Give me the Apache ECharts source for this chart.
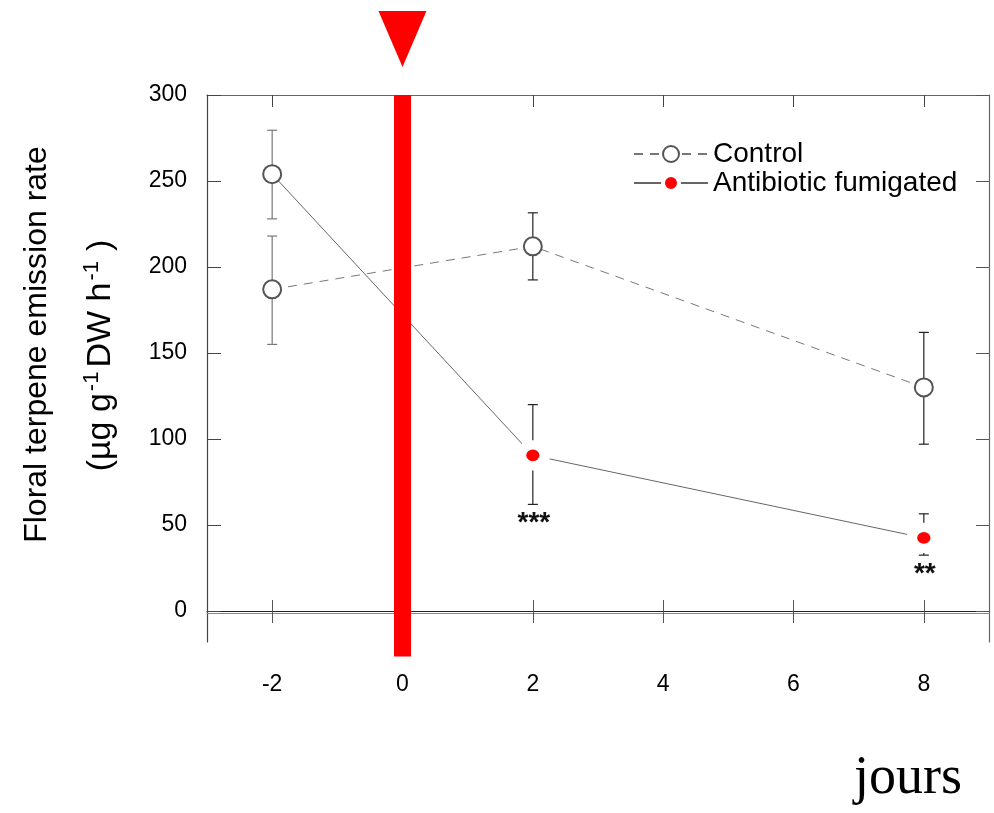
<!DOCTYPE html>
<html>
<head>
<meta charset="utf-8">
<script src="https://cdn.jsdelivr.net/npm/echarts@6/dist/echarts.min.js"></script>
<style>
  html, body { margin: 0; padding: 0; background: #fff; }
  #chart { width: 994px; height: 813px; }
</style>
</head>
<body>
<div id="chart"></div>
<script>
// days relative to treatment
const days = [-2, 2, 8];
const xTicks = [-2, 0, 2, 4, 6, 8];
const yTicks = [0, 50, 100, 150, 200, 250, 300];

const controlMean = [187, 212, 130];
const controlLow = [155, 192.5, 97];
const controlHigh = [218, 231.5, 162];

const fumigatedMean = [254, 90.5, 42.5];
const fumigatedLow = [228, 62, 32.5];
const fumigatedHigh = [279.5, 120, 56.5];
const significance = ['', '***', '**'];

// antibiotic treatment at day 0
const treatmentDay = 0;
const treatmentSpan = [300, -26.5];

const font = '"Liberation Sans", Arial, sans-serif';

const chart = echarts.init(document.getElementById('chart'));

const errorSeries = (low, high, labels) => ({
    type: 'custom',
    z: 1,
    silent: true,
    clip: false,
    data: days.map((d, i) => [d, low[i], high[i]]),
    renderItem: (params, api) => {
        const x = api.value(0);
        const lo = api.coord([x, api.value(1)]);
        const hi = api.coord([x, api.value(2)]);
        const col = x < 0 ? '#777' : '#222';
        const st = { stroke: col, lineWidth: 1.2 };
        const children = [
            { type: 'line', shape: { x1: lo[0], y1: lo[1], x2: hi[0], y2: hi[1] }, style: st },
            { type: 'line', shape: { x1: lo[0] - 5, y1: lo[1], x2: lo[0] + 5, y2: lo[1] }, style: st },
            { type: 'line', shape: { x1: hi[0] - 5, y1: hi[1], x2: hi[0] + 5, y2: hi[1] }, style: st }
        ];
        const sig = labels ? labels[params.dataIndex] : '';
        if (sig) {
            children.push({
                type: 'text',
                style: {
                    text: sig, x: lo[0] + 1, y: lo[1] + 5,
                    align: 'center', verticalAlign: 'top',
                    font: 'bold 28px ' + font, fill: '#111'
                }
            });
        }
        return { type: 'group', children };
    }
});

const option = {
    animation: false,
    title: {
        text: 'jours',
        left: 854,
        top: 752,
        padding: 0,
        textStyle: { fontFamily: '"Liberation Serif", "Times New Roman", serif', fontSize: 54, fontWeight: 'normal', color: '#000' }
    },
    legend: {
        data: [
            { name: 'Control' },
            { name: 'Antibiotic fumigated', itemStyle: { borderWidth: 4 } }
        ],
        orient: 'vertical',
        left: 633,
        top: 140,
        padding: 0,
        itemWidth: 74,
        itemHeight: 20,
        itemGap: 1,
        selectedMode: false,
        textStyle: { fontFamily: font, fontSize: 28, color: '#000' }
    },
    grid: { left: 207, top: 95, width: 782, height: 547 },
    xAxis: [
        {
            // labels below the frame
            type: 'value', min: -3, max: 9, position: 'bottom',
            axisLine: { show: false, onZero: false },
            axisTick: { show: false },
            splitLine: { show: false },
            axisLabel: { customValues: xTicks, margin: 31, fontFamily: font, fontSize: 23, color: '#000' }
        },
        {
            // top frame
            type: 'value', min: -3, max: 9, position: 'top',
            axisLine: { show: true, onZero: false, lineStyle: { color: '#666', width: 1.2 } },
            axisTick: { inside: true, length: 12, customValues: xTicks, lineStyle: { color: '#444' } },
            axisLabel: { show: false },
            splitLine: { show: false }
        },
        {
            // zero line, ticks down
            type: 'value', min: -3, max: 9, position: 'bottom',
            axisLine: { show: true, onZero: true, lineStyle: { color: '#222', width: 1, shadowColor: '#888', shadowOffsetY: 2, shadowBlur: 0 } },
            axisTick: { length: 12, customValues: xTicks, lineStyle: { color: '#555' } },
            axisLabel: { show: false },
            splitLine: { show: false }
        },
        {
            // zero line, ticks up
            type: 'value', min: -3, max: 9, position: 'top',
            axisLine: { show: false, onZero: true },
            axisTick: { show: true, length: 11, customValues: xTicks, lineStyle: { color: '#555' } },
            axisLabel: { show: false },
            splitLine: { show: false }
        }
    ],
    yAxis: [
        {
            type: 'value', min: -18, max: 300, position: 'left',
            axisLine: { show: true, onZero: false, lineStyle: { color: '#444', width: 1.2 } },
            axisTick: { inside: true, length: 14, customValues: yTicks, lineStyle: { color: '#444' } },
            axisLabel: { customValues: yTicks, margin: 20, fontFamily: font, fontSize: 23, color: '#000' },
            splitLine: { show: false },
            name: '{a|Floral terpene emission rate}\n{b|(µg g}{s|-1}{b|DW h}{s|-1}{p|)}',
            nameLocation: 'middle',
            nameRotate: 90,
            nameGap: 74,
            nameTextStyle: {
                padding: [0, 0, 0, 48],
                rich: {
                    a: { fontFamily: font, fontSize: 32, color: '#000', lineHeight: 64 },
                    b: { fontFamily: font, fontSize: 34, color: '#000', lineHeight: 64 },
                    s: { fontFamily: font, fontSize: 22, color: '#000', lineHeight: 20, padding: [0, 4, 18, 2] },
                    p: { fontFamily: font, fontSize: 34, color: '#000', lineHeight: 64, padding: [0, 22, 0, 6] }
                }
            }
        },
        {
            type: 'value', min: -18, max: 300, position: 'right',
            axisLine: { show: true, onZero: false, lineStyle: { color: '#666', width: 1.2 } },
            axisTick: { inside: true, length: 13, customValues: yTicks, lineStyle: { color: '#555' } },
            axisLabel: { show: false },
            splitLine: { show: false }
        }
    ],
    series: [
        errorSeries(controlLow, controlHigh, null),
        errorSeries(fumigatedLow, fumigatedHigh, significance),
        {
            name: 'Control',
            type: 'line',
            z: 3,
            data: days.map((d, i) => [d, controlMean[i]]),
            symbol: 'emptyCircle',
            symbolSize: 18,
            itemStyle: { color: '#555', borderWidth: 1.5 },
            lineStyle: { color: '#777', width: 1, type: [9, 7] }
        },
        {
            name: 'Antibiotic fumigated',
            type: 'line',
            z: 3,
            data: days.map((d, i) => {
                // before treatment the plants look like controls
                if (d < treatmentDay) {
                    return {
                        value: [d, fumigatedMean[i]],
                        symbol: 'emptyCircle',
                        symbolSize: 18,
                        itemStyle: { color: '#555', borderColor: '#555', borderWidth: 1.5 }
                    };
                }
                return [d, fumigatedMean[i]];
            }),
            symbol: 'circle',
            symbolSize: [24, 21],
            itemStyle: { color: '#ff0000', borderColor: '#fff', borderWidth: 10 },
            lineStyle: { color: '#666', width: 1 }
        },
        {
            name: 'treatment',
            type: 'line',
            z: 6,
            silent: true,
            clip: false,
            symbol: 'none',
            data: treatmentSpan.map(v => [treatmentDay, v]),
            lineStyle: { color: '#ff0000', width: 17, cap: 'butt' }
        },
        {
            name: 'arrow',
            type: 'scatter',
            z: 6,
            silent: true,
            clip: false,
            data: [[treatmentDay, treatmentSpan[0]]],
            symbol: 'triangle',
            symbolRotate: 180,
            symbolSize: [48, 56],
            symbolOffset: [0, -56],
            itemStyle: { color: '#ff0000', opacity: 1 }
        }
    ]
};

chart.setOption(option);
</script>
</body>
</html>
